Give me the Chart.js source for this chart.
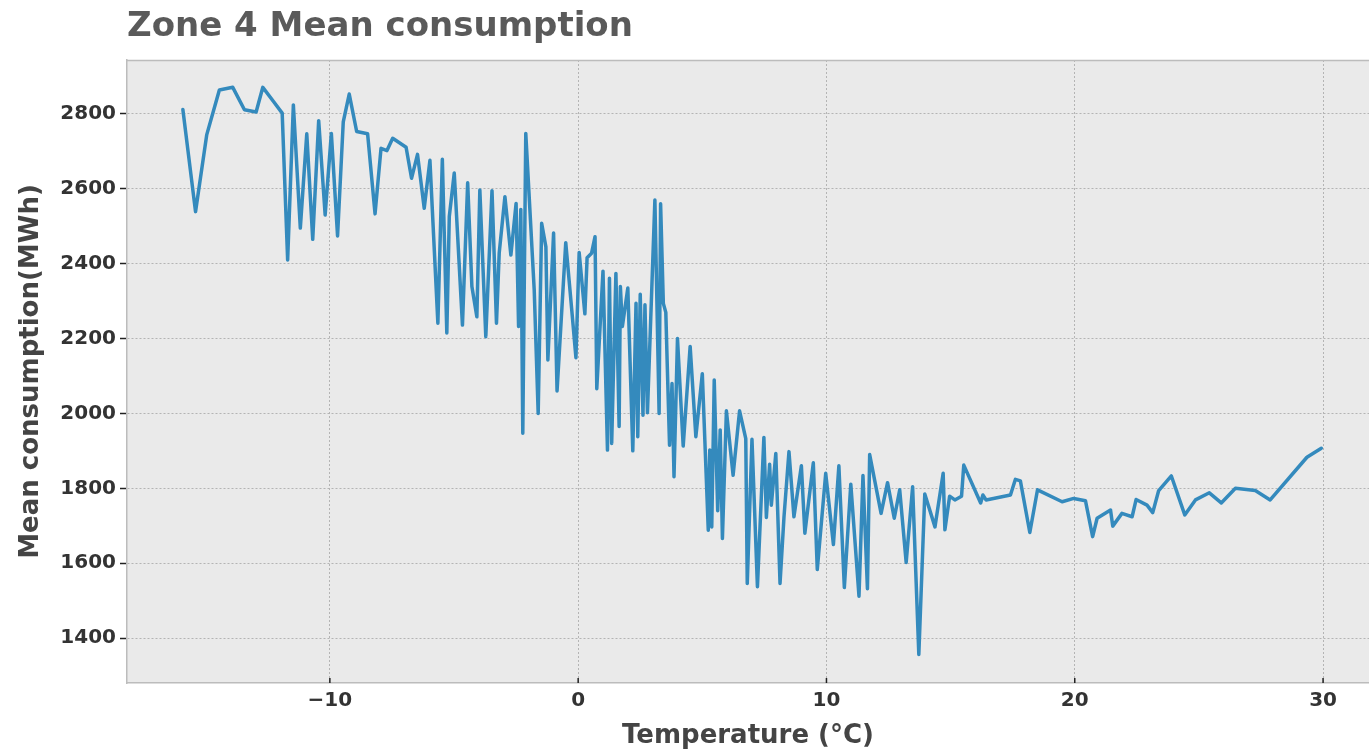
<!DOCTYPE html>
<html>
<head>
<meta charset="utf-8">
<script src="https://cdn.jsdelivr.net/npm/chart.js@4"></script>
<style>
  body { margin: 0; background: #ffffff; }
  #wrap { width: 1369px; height: 752px; }
</style>
</head>
<body>
<div id="wrap"><canvas id="zone-chart" width="1369" height="752"></canvas></div>
<script>
// temperature (degrees C) and mean consumption (MWh)
let temps = [
  -15.92, -15.41, -14.96, -14.45, -13.91, -13.44, -12.97, -12.70, -12.27, -11.92,
  -11.70, -11.47, -11.19, -10.93, -10.69, -10.45, -10.19, -9.94, -9.69, -9.46,
  -9.22, -8.92, -8.48, -8.18, -7.94, -7.70, -7.47, -6.93, -6.71, -6.47,
  -6.20, -5.97, -5.65, -5.47, -5.29, -5.19, -4.99, -4.66, -4.45, -4.28,
  -4.08, -3.96, -3.72, -3.47, -3.29, -3.18, -2.95, -2.71, -2.50, -2.40,
  -2.31, -2.23, -2.11, -1.77, -1.61, -1.47, -1.30, -1.22, -0.99, -0.85,
  -0.50, -0.23, -0.09, 0.04, 0.27, 0.36, 0.54, 0.68, 0.75, 1.00,
  1.18, 1.26, 1.35, 1.52, 1.65, 1.70, 1.78, 2.00, 2.20, 2.33,
  2.40, 2.50, 2.61, 2.69, 2.79, 3.09, 3.26, 3.32, 3.43, 3.53,
  3.59, 3.68, 3.78, 3.86, 4.00, 4.23, 4.51, 4.74, 5.00, 5.24,
  5.30, 5.38, 5.48, 5.62, 5.72, 5.81, 5.97, 6.24, 6.50, 6.75,
  6.81, 7.00, 7.22, 7.48, 7.58, 7.71, 7.78, 7.96, 8.13, 8.29,
  8.49, 8.69, 8.99, 9.13, 9.47, 9.63, 9.97, 10.28, 10.50, 10.72,
  10.98, 11.31, 11.47, 11.65, 11.74, 12.20, 12.46, 12.73, 12.95, 13.21,
  13.47, 13.72, 13.96, 14.37, 14.70, 14.77, 14.96, 15.17, 15.44, 15.53,
  16.21, 16.30, 16.43, 17.41, 17.61, 17.81, 18.19, 18.50, 19.49, 19.96,
  20.43, 20.72, 20.90, 21.44, 21.53, 21.90, 22.31, 22.47, 22.91, 23.14,
  23.38, 23.89, 24.43, 24.86, 25.42, 25.90, 26.47, 27.27, 27.87, 29.35,
  29.93
]
let consumption = [
  2812, 2539, 2744, 2864, 2871, 2811, 2805, 2871, 2833, 2802,
  2410, 2824, 2495, 2747, 2465, 2782, 2530, 2748, 2474, 2779,
  2853, 2753, 2747, 2533, 2708, 2702, 2735, 2711, 2628, 2692,
  2548, 2676, 2241, 2679, 2215, 2526, 2642, 2236, 2616, 2339,
  2258, 2597, 2205, 2595, 2241, 2428, 2579, 2423, 2561, 2232,
  2545, 1947, 2748, 2330, 2000, 2508, 2445, 2143, 2482, 2060,
  2456, 2255, 2149, 2430, 2266, 2416, 2428, 2472, 2066, 2380,
  1902, 2361, 1920, 2374, 1965, 2339, 2232, 2335, 1900, 2294,
  1938, 2318, 1995, 2290, 2002, 2570, 2000, 2560, 2294, 2270,
  2125, 1915, 2080, 1831, 2200, 1913, 2179, 1938, 2106, 1688,
  1902, 1697, 2089, 1740, 1956, 1666, 2007, 1835, 2007, 1933,
  1546, 1931, 1537, 1936, 1722, 1864, 1755, 1893, 1546, 1724,
  1898, 1724, 1860, 1680, 1868, 1583, 1840, 1650, 1860, 1535,
  1811, 1512, 1834, 1532, 1890, 1733, 1815, 1720, 1796, 1602,
  1804, 1356, 1785, 1697, 1840, 1689, 1779, 1769, 1779, 1862,
  1761, 1782, 1769, 1782, 1824, 1820, 1682, 1796, 1764, 1773,
  1767, 1671, 1720, 1742, 1699, 1733, 1724, 1770, 1755, 1735,
  1794, 1833, 1729, 1769, 1788, 1761, 1800, 1794, 1769, 1883,
  1907
]
let xTicks = [-10, 0, 10, 20, 30]
let yTicks = [1400, 1600, 1800, 2000, 2200, 2400, 2600, 2800]

let chartTitle = 'Zone 4 Mean consumption'
let xLabel = 'Temperature (°C)'
let yLabel = 'Mean consumption(MWh)'

let FONT = "'DejaVu Sans', sans-serif"

let points = temps.map(function (t, i) {
    return { x: t, y: consumption[i] }
})

// grey plot background, top border, inward x tick marks and the title
let plotDecor = {
    id: 'plotDecor',
    beforeDraw: function (chart) {
        let a = chart.chartArea
        let c = chart.ctx
        c.save()
        c.fillStyle = '#eaeaea'
        c.fillRect(a.left, a.top, a.right - a.left, a.bottom - a.top)
        c.restore()
    },
    afterDraw: function (chart) {
        let a = chart.chartArea
        let c = chart.ctx
        c.save()
        c.strokeStyle = '#bcbcbc'
        c.lineWidth = 1.5
        c.beginPath()
        c.moveTo(a.left, a.top + 0.5)
        c.lineTo(a.right, a.top + 0.5)
        c.stroke()

        let xs = chart.scales.x
        c.strokeStyle = '#222'
        c.lineWidth = 1.5
        xTicks.forEach(function (v) {
            let px = xs.getPixelForValue(v)
            c.beginPath()
            c.moveTo(px, a.bottom)
            c.lineTo(px, a.bottom - 5)
            c.stroke()
        })

        c.fillStyle = '#5a5a5a'
        c.font = 'bold 34px ' + FONT
        c.textBaseline = 'alphabetic'
        c.textAlign = 'left'
        c.fillText(chartTitle, a.left, 36)
        c.restore()
    }
}

let ctx = document.querySelector('#zone-chart').getContext('2d')

let zoneChart = new Chart(ctx, {
    type: 'line',
    data: {
        datasets: [{
            data: points,
            borderColor: '#348abd',
            borderWidth: 3.5,
            borderJoinStyle: 'round',
            borderCapStyle: 'round',
            pointRadius: 0,
            tension: 0,
            fill: false
        }]
    },
    options: {
        responsive: false,
        animation: false,
        layout: { padding: { top: 60, right: 0, bottom: 0, left: 0 } },
        plugins: {
            legend: { display: false },
            tooltip: { enabled: false }
        },
        scales: {
            x: {
                type: 'linear',
                min: -18.17,
                max: 31.85,
                afterFit: function (s) { s.height = 69 },
                afterBuildTicks: function (s) {
                    s.ticks = xTicks.map(function (v) { return { value: v } })
                },
                ticks: {
                    padding: 6,
                    color: '#333',
                    font: { family: FONT, size: 20, weight: 'bold' },
                    callback: function (v) { return String(v).replace('-', '\u2212') }
                },
                grid: {
                    color: '#b4b4b4',
                    lineWidth: 1,
                    drawTicks: false
                },
                border: { color: '#bcbcbc', width: 1.5, dash: [2, 2] },
                title: {
                    display: true,
                    text: xLabel,
                    color: '#444',
                    font: { family: FONT, size: 26, weight: 'bold' },
                    padding: { top: 0, bottom: 0 }
                }
            },
            y: {
                type: 'linear',
                min: 1280,
                max: 2944,
                afterFit: function (s) { s.width = 127 },
                afterBuildTicks: function (s) {
                    s.ticks = yTicks.map(function (v) { return { value: v } })
                },
                ticks: {
                    padding: 4,
                    color: '#333',
                    font: { family: FONT, size: 20, weight: 'bold' },
                    callback: function (v) { return String(v) }
                },
                grid: {
                    color: '#b4b4b4',
                    lineWidth: 1,
                    drawTicks: true,
                    tickLength: 7,
                    tickColor: '#222',
                    tickBorderDash: [],
                    tickWidth: 1.5
                },
                border: { color: '#bcbcbc', width: 1.5, dash: [2, 2] },
                title: {
                    display: true,
                    text: yLabel,
                    color: '#444',
                    font: { family: FONT, size: 26, weight: 'bold' },
                    padding: { top: 16, bottom: 0 }
                }
            }
        }
    },
    plugins: [plotDecor]
})
</script>
</body>
</html>
